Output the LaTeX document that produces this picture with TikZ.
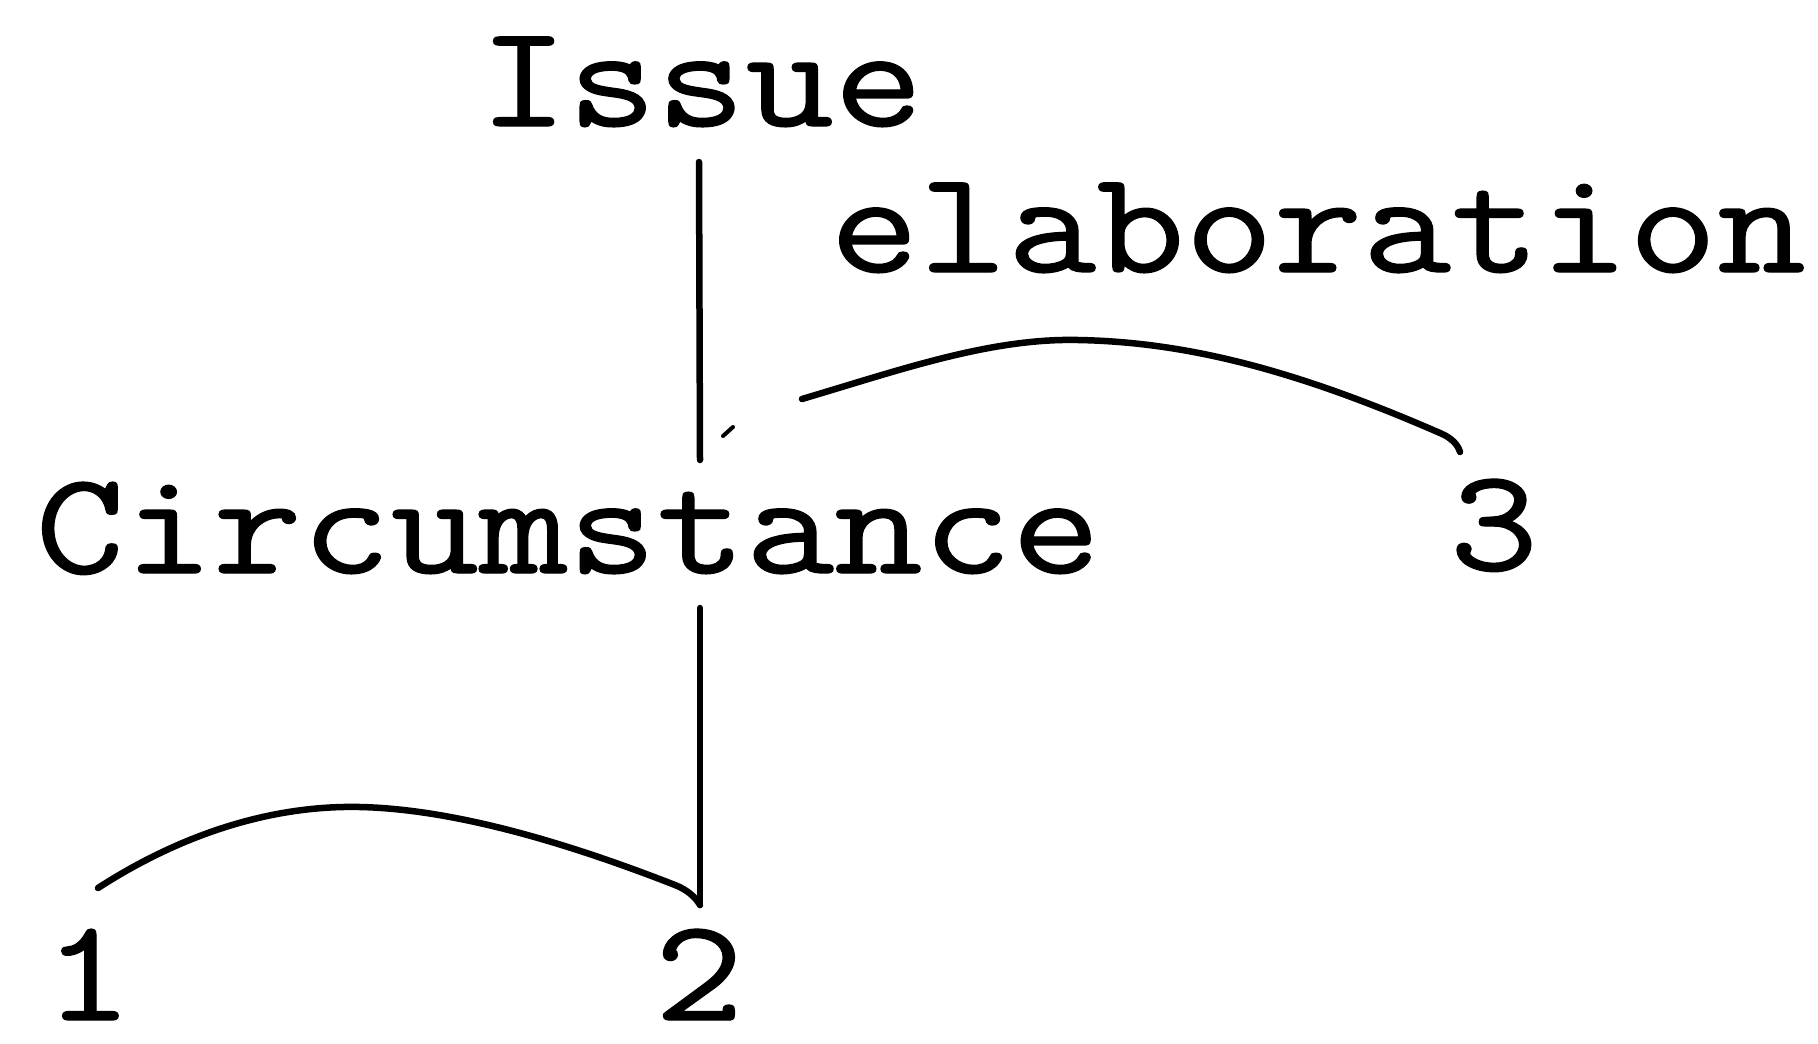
\documentclass[tikz,border=0pt]{standalone}
\usepackage{fontspec}
\newfontfamily\courfont[FakeStretch=1.18,FakeBold=0.9]{Latin Modern Mono}
\tikzset{
  lbl/.style={font=\courfont\fontsize{146}{150}\selectfont, inner sep=0pt, anchor=base},
  edge/.style={line width=6.5pt, line cap=round, line join=round},
}
\begin{document}
\begin{tikzpicture}[x=1pt,y=-1pt]
\useasboundingbox (0,0) rectangle (1818,1044);
\node[lbl] (issue) at (701,126) {Issue};
\node[lbl] (elab) at (1318,272) {elaboration};
\node[lbl] (circ) at (568,573) {Circumstance};
\node[lbl] (three) at (1494,570) {3};
\node[lbl] (one) at (88,1020) {1};
\node[lbl] (two) at (699,1020) {2};
% ends of connectors
\coordinate (issuebot) at (699,162);
\coordinate (circtop) at (700,460);
\coordinate (circbot) at (700,608);
\coordinate (twotop) at (700,905);
\coordinate (threetop) at (1460,452);
\coordinate (elabend) at (802,399);
\coordinate (onetop) at (98,888);
% Issue -> Circumstance
\draw[edge] (issuebot) -- (circtop);
% elaboration arc from 3
\draw[edge] (elabend) .. controls (900,370) and (990,338) .. (1078,340)
  .. controls (1190,342) and (1300,372) .. (1440,433)
  .. controls (1452,438) and (1458,445) .. (threetop);
% tiny arrow fragment
\draw[line width=4pt, line cap=round] (723,436) -- (733,427);
% Circumstance -> 2
\draw[edge] (circbot) -- (twotop);
% arc 1 - 2
\draw[edge] (onetop) .. controls (180,835) and (270,805) .. (360,807)
  .. controls (450,809) and (560,840) .. (675,885)
  .. controls (688,890) and (696,898) .. (twotop);
\end{tikzpicture}
\end{document}
